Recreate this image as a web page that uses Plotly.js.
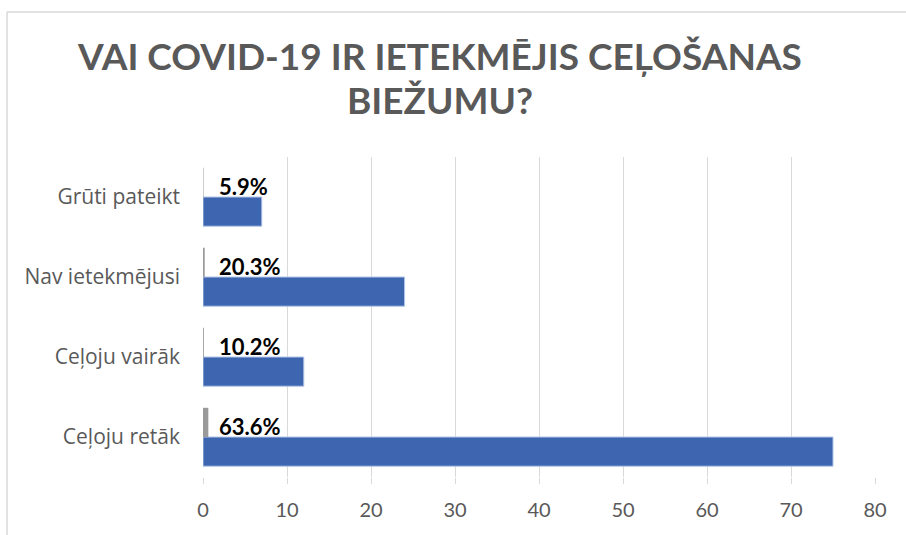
<!DOCTYPE html>
<html>
<head>
<meta charset="utf-8">
<script src="https://cdn.plot.ly/plotly-3.0.1.min.js"></script>
<style>
html,body{margin:0;padding:0;background:#fff;}
#chart{width:906px;height:535px;}
</style>
</head>
<body>
<div id="chart"></div>
<script>
// Categories listed bottom to top
const categories = ['Ceļoju retāk', 'Ceļoju vairāk', 'Nav ietekmējusi', 'Grūti pateikt'];
const counts = [75, 12, 24, 7];
const shares = [0.636, 0.102, 0.203, 0.059];
const xTicks = [0, 10, 20, 30, 40, 50, 60, 70, 80];
const titleLine1 = 'VAI COVID-19 IR IETEKMĒJIS CEĻOŠANAS';
const titleLine2 = 'BIEŽUMU?';

const numFont = 'Lato, "Open Sans", sans-serif';
const catFont = '"Open Sans", Lato, sans-serif';

const traces = [
  {
    type: 'bar', orientation: 'h',
    y: categories, x: counts,
    marker: {color: '#3d65b0', line: {color: '#b4c7e7', width: 1}},
    hoverinfo: 'skip', showlegend: false
  },
  {
    type: 'bar', orientation: 'h',
    y: categories, x: shares,
    marker: {color: '#9a9a9a', line: {width: 0}},
    hoverinfo: 'skip', showlegend: false
  }
];

const L = 203, R = 31, T = 157, B = 58, W = 906, H = 535;
const pw = W - L - R, ph = H - T - B;
const px = v => (v - L) / pw;
const py = v => (H - B - v) / ph;

const annotations = categories.map((c, i) => ({
  x: 0, y: c, xref: 'x', yref: 'y',
  text: (shares[i] * 100).toFixed(1) + '%',
  showarrow: false, xanchor: 'left', yanchor: 'middle',
  xshift: 14, yshift: 11,
  font: {family: numFont, size: 22, color: '#000', weight: 'bold'}
}));
annotations.push({
  x: px(440), y: py(100), xref: 'paper', yref: 'paper',
  text: titleLine2, showarrow: false, xanchor: 'center', yanchor: 'middle',
  font: {family: numFont, size: 37, color: '#595959', weight: 'bold'}
});

const layout = {
  width: W, height: H,
  margin: {l: L, r: R, t: T, b: B, pad: 0},
  paper_bgcolor: '#fff', plot_bgcolor: '#fff',
  barmode: 'group', bargap: 0.27, bargroupgap: 0,
  title: {
    text: titleLine1,
    font: {family: numFont, size: 37, color: '#595959', weight: 'bold'},
    x: 440 / W, xref: 'container', xanchor: 'center',
    y: 1 - 57 / H, yref: 'container', yanchor: 'middle'
  },
  xaxis: {
    range: [0, 80], tickvals: xTicks, ticktext: xTicks.map(String),
    showgrid: true, gridcolor: '#d9d9d9', gridwidth: 1,
    zeroline: false, showline: false,
    ticks: 'outside', ticklen: 6, tickcolor: '#d9d9d9',
    ticklabelstandoff: 9,
    tickfont: {family: numFont, size: 20, color: '#595959'},
    fixedrange: true
  },
  yaxis: {
    categoryorder: 'array', categoryarray: categories,
    showgrid: false, zeroline: false, showline: false,
    ticks: '', ticklabelstandoff: 22,
    tickfont: {family: catFont, size: 21, color: '#595959'},
    fixedrange: true
  },
  annotations: annotations,
  shapes: [
    {type: 'line', xref: 'paper', yref: 'paper', x0: px(7), x1: px(7), y0: py(535), y1: py(12),
     line: {color: '#d9d9d9', width: 1.5}, layer: 'below'},
    {type: 'line', xref: 'paper', yref: 'paper', x0: px(7), x1: px(906), y0: py(12), y1: py(12),
     line: {color: '#d9d9d9', width: 1.5}, layer: 'below'}
  ]
};

Plotly.newPlot('chart', traces, layout, {staticPlot: true, displayModeBar: false});
</script>
</body>
</html>
